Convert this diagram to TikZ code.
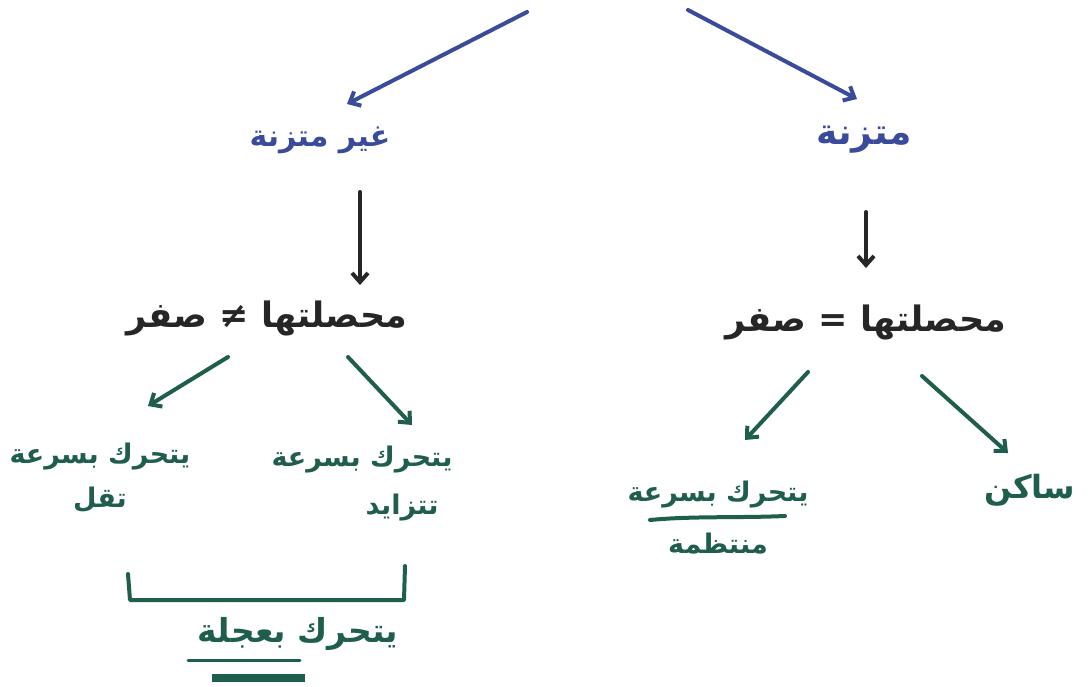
\documentclass[tikz,border=0pt]{standalone}
\usepackage{fontspec}
\usetikzlibrary{arrows.meta}
\newfontfamily\arabicfont[Script=Arabic]{DejaVu Sans}
\TeXXeTstate=1
\definecolor{inkblue}{HTML}{3A4B9C}
\definecolor{inkblack}{HTML}{262626}
\definecolor{inkgreen}{HTML}{1F5E4C}
\tikzset{
  lbl/.style={font=\arabicfont\bfseries\fontsize{30}{46}\selectfont, inner sep=2pt, align=center},
  bluelbl/.style={lbl, text=inkblue},
  blacklbl/.style={lbl, text=inkblack, font=\arabicfont\bfseries\fontsize{35}{46}\selectfont},
  greenlbl/.style={lbl, text=inkgreen, font=\arabicfont\bfseries\fontsize{27}{44}\selectfont},
  pen/.style={line width=4pt, line cap=round, line join=round,
    -{Straight Barb[length=9pt,width=16pt,line width=4pt]}},
  bluepen/.style={pen, draw=inkblue},
  blackpen/.style={pen, draw=inkblack},
  greenpen/.style={pen, draw=inkgreen},
}
\begin{document}
\begin{tikzpicture}[x=1pt,y=-1pt]
\useasboundingbox (0,0) rectangle (1089,686);
\fill[white] (0,0) rectangle (1089,686);

% top split
\coordinate (topL) at (527,12);
\coordinate (topR) at (688,10);
\node[bluelbl] (unbal) at (320,140) {\beginR غير متزنة\endR};
\node[bluelbl, font=\arabicfont\bfseries\fontsize{36}{46}\selectfont] (bal) at (864,140) {\beginR متزنة\endR};
\draw[bluepen] (topL) -- (347,104);
\draw[bluepen] (topR) -- (857,99);

% resultant
\node[blacklbl] (rne) at (267,318) {\beginR محصلتها ≠ صفر\endR};
\node[blacklbl] (req) at (866,322) {\beginR محصلتها = صفر\endR};
\coordinate (a1) at (360,192);
\coordinate (a2) at (866,212);
\draw[blackpen] (a1) -- (a1 |- 0,285);
\draw[blackpen] (a2) -- (a2 |- 0,268);

% outcomes, left branch
\node[greenlbl] (dec) at (100,478) {\beginR يتحرك بسرعة\endR\\ \beginR تقل\endR};
\node[greenlbl] (inc) at (362,484) {\beginR يتحرك بسرعة\endR\\[4pt] \hspace*{80pt}\beginR تتزايد\endR};
\draw[greenpen] (228,357) -- (148,406);
\draw[greenpen] (348,357) -- (412,425);

% outcomes, right branch
\node[greenlbl] (unif) at (718,518) {\beginR يتحرك بسرعة\endR\\[8pt] \beginR منتظمة\endR};
\node[greenlbl, font=\arabicfont\bfseries\fontsize{32}{44}\selectfont] (rest) at (1030,490) {\beginR ساكن\endR};
\draw[greenpen] (808,372) -- (745,440);
\draw[greenpen] (922,376) -- (1008,453);
\draw[inkgreen, line width=4pt, line cap=round] (650,520) .. controls (690,516) and (740,518) .. (785,516);

% bracket joining the two accelerated cases
\coordinate (bl) at (128,574);
\coordinate (br) at (405,566);
\draw[inkgreen, line width=4pt, line cap=round, line join=round]
  (bl) -- (130,600) -- (404,600) -- (br);
\node[greenlbl, font=\arabicfont\bfseries\fontsize{33}{44}\selectfont] (accel) at (298,634) {\beginR يتحرك بعجلة\endR};
\draw[inkgreen, line width=3pt, line cap=round] (188,660) -- (300,660);
\draw[inkgreen, line width=8pt] (212,678) -- (305,678);
\end{tikzpicture}
\end{document}
